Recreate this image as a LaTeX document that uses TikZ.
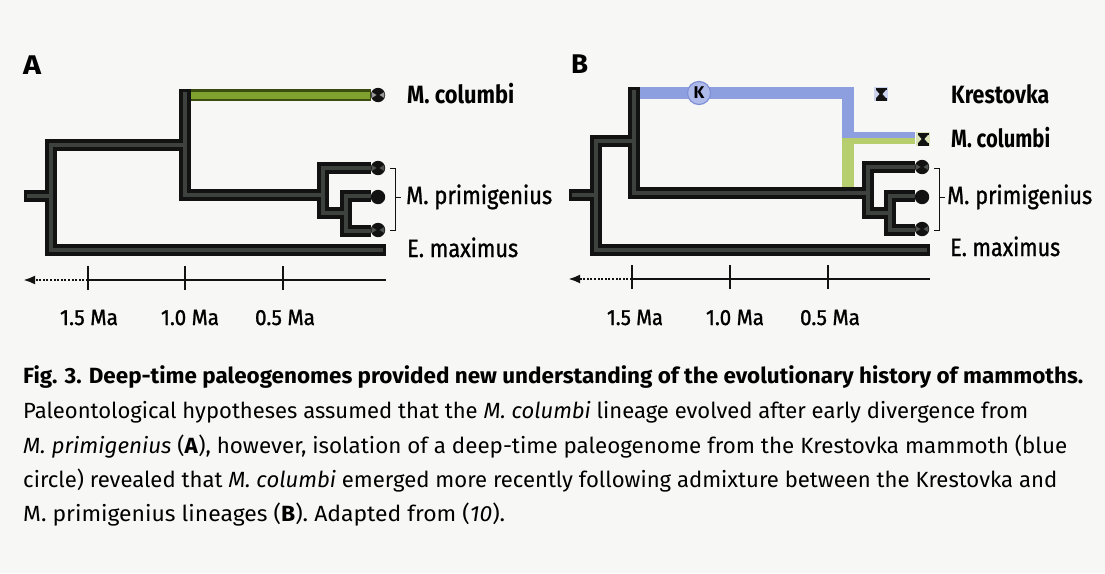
\documentclass[tikz,border=0pt]{standalone}
\usepackage{fontspec}
\setmainfont{Fira Sans}
\newfontfamily\medfont[FakeBold=1.2]{Fira Sans}
\usepackage{graphicx}
\usetikzlibrary{arrows.meta}
\definecolor{paper}{HTML}{F7F7F5}
\definecolor{brout}{HTML}{121212}
\definecolor{brin}{HTML}{3E423E}
\definecolor{kblue}{HTML}{8E9FE0}
\definecolor{cgreenA}{HTML}{7FA12E}
\definecolor{cgreenAo}{HTML}{3A4C10}
\definecolor{cgreenB}{HTML}{B7CE6E}
\definecolor{kfill}{HTML}{AEBBEA}
\definecolor{kedge}{HTML}{7F90D6}
\definecolor{markgray}{HTML}{9A9A9A}
\definecolor{markdark}{HTML}{505450}
\newcommand{\fitw}[2]{\resizebox{#1pt}{\height}{#2}}
\newcommand{\hglass}[3]{%
  \begin{scope}[shift={(#1,#2)}]
    \fill[#3] (-7,-7) rectangle (7,7);
    \fill[brout] (-5.5,-6.5) rectangle (5.5,-3.8);
    \fill[brout] (-5.5,3.8) rectangle (5.5,6.5);
    \fill[brout] (-4.8,-4) -- (4.8,-4) -- (1.3,0) -- (4.8,4) -- (-4.8,4) -- (-1.3,0) -- cycle;
  \end{scope}}
\newcommand{\sdisk}[3]{%
  \begin{scope}[shift={(#1,#2)}]
    \fill[brout] (0,0) circle (7.2);
    \fill[#3] (-6.3,-3) -- (-1.5,0) -- (-6.3,3) -- cycle;
    \fill[#3] (6.3,-3) -- (1.5,0) -- (6.3,3) -- cycle;
  \end{scope}}
\begin{document}
\begin{tikzpicture}[x=1pt,y=-1pt,
  outer/.style={line width=12pt, draw=brout, line join=miter},
  inner/.style={line width=4.5pt, draw=brin, line join=miter},
  lbl/.style={anchor=base west, inner sep=0pt, font=\fontsize{25}{28}\selectfont},
  panel/.style={anchor=base west, inner sep=0pt, font=\fontsize{27}{30}\selectfont\bfseries},
  tl/.style={anchor=base, inner sep=0pt, font=\fontsize{22}{26}\selectfont\medfont},
  captxt/.style={anchor=base west, inner sep=0pt, font=\fontsize{22}{26}\selectfont},
  axisline/.style={line width=1.6pt, draw=brout},
  pastarrow/.style={line width=2.5pt, draw=brout, dash pattern=on 2pt off 1.6pt, -{Latex[length=12pt,width=9pt]}},
  brack/.style={line width=0.9pt, draw=brout},
  kcirc/.style={circle, minimum size=23pt, inner sep=0pt, fill=kfill, draw=kedge, line width=1.2pt, font=\fontsize{17}{20}\selectfont\bfseries}
]
\useasboundingbox[fill=paper] (0,0) rectangle (1105,573);

% ---------------- Panel A ----------------
\node[panel] (labA) at (23,74) {\fitw{18}{A}};
% black branches
\draw[outer] (24,196) -- (51,196);
\draw[outer] (185,145) -- (51,145) -- (51,250) -- (386,250);
\draw[outer] (323,195) -- (185,195) -- (185,89);
\draw[outer] (371,168) -- (323,168) -- (323,213) -- (346,213);
\draw[outer] (371,196) -- (346,196) -- (346,231) -- (371,231);
\draw[inner] (27,196) -- (51,196);
\draw[inner] (185,145) -- (51,145) -- (51,250) -- (383,250);
\draw[inner] (323,195) -- (185,195) -- (185,92);
\draw[inner] (371,168) -- (323,168) -- (323,213) -- (346,213);
\draw[inner] (371,196) -- (346,196) -- (346,231) -- (371,231);
% green M. columbi branch
\draw[line width=12pt, draw=cgreenAo] (191,95) -- (371,95);
\draw[line width=7pt, draw=cgreenA] (191,95) -- (370,95);
% tips
\sdisk{378}{95}{markgray}
\sdisk{378}{168}{markdark}
\fill[brout] (378,197) circle (7.2);
\sdisk{378}{230}{markdark}
% bracket
\draw[brack] (390,168) -- (395,168) -- (395,230) -- (390,230);
\draw[brack] (395,197) -- (401,197);
% labels
\node[lbl] (colA) at (407,103) {\fitw{107}{\bfseries M. columbi}};
\node[lbl] (priA) at (406,204) {\fitw{146}{\medfont M. primigenius}};
\node[lbl] (maxA) at (407,257) {\fitw{111}{\medfont E. maximus}};
% time axis
\coordinate (a15) at (88,280);
\coordinate (a10) at (185,280);
\coordinate (a05) at (283,280);
\coordinate (aend) at (386,280);
\coordinate (apast) at (23,280);
\draw[axisline] (a15) -- (aend);
\foreach \p in {a15,a10,a05} \draw[axisline] ([yshift=-10pt]\p) -- ([yshift=14pt]\p);
\draw[pastarrow] (a15) -- (apast);
\node[tl] (tA15) at (89,325) {\fitw{58}{1.5 Ma}};
\node[tl] (tA10) at (190,325) {\fitw{58}{1.0 Ma}};
\node[tl] (tA05) at (285,325) {\fitw{60}{0.5 Ma}};

% ---------------- Panel B ----------------
\node[panel] (labB) at (571,73) {\fitw{17}{B}};
\draw[outer] (569,195) -- (596,195);
\draw[outer] (634,141) -- (596,141) -- (596,250) -- (930,250);
\draw[outer] (868,193) -- (634,193) -- (634,87);
\draw[outer] (915,167) -- (868,167) -- (868,213) -- (890,213);
\draw[outer] (915,196) -- (890,196) -- (890,230) -- (915,230);
\draw[inner] (572,195) -- (596,195);
\draw[inner] (634,141) -- (596,141) -- (596,250) -- (927,250);
\draw[inner] (868,193) -- (634,193) -- (634,90);
\draw[inner] (915,167) -- (868,167) -- (868,213) -- (890,213);
\draw[inner] (915,196) -- (890,196) -- (890,230) -- (915,230);
% Krestovka (blue) lineage and admixed M. columbi
\draw[line width=12pt, draw=kblue, line join=miter] (640,93) -- (847.5,93) -- (847.5,138);
\fill[kblue] (841.5,132) rectangle (915,138);
\fill[cgreenB] (841.5,138) rectangle (915,144);
\fill[cgreenB] (841.5,138) rectangle (853.5,187);
\node[kcirc] (K) at (699,93) {K};
% tips
\hglass{881}{94}{kfill!60!paper}
\hglass{923}{139}{cgreenB!45!paper}
\sdisk{922}{167}{markdark}
\fill[brout] (922,197) circle (7.2);
\sdisk{922}{229}{markdark}
% bracket
\draw[brack] (934,168) -- (939,168) -- (939,230) -- (934,230);
\draw[brack] (939,197) -- (945,197);
% labels
\node[lbl] (kreB) at (951,103) {\fitw{98}{\bfseries Krestovka}};
\node[lbl] (colB) at (951,147) {\fitw{99}{\bfseries M. columbi}};
\node[lbl] (priB) at (947,204) {\fitw{145}{\medfont M. primigenius}};
\node[lbl] (maxB) at (950,256) {\fitw{110}{\medfont E. maximus}};
% time axis
\coordinate (b15) at (632,279);
\coordinate (b10) at (730,279);
\coordinate (b05) at (828,279);
\coordinate (bend) at (930,279);
\coordinate (bpast) at (568,279);
\draw[axisline] (b15) -- (bend);
\foreach \p in {b15,b10,b05} \draw[axisline] ([yshift=-10pt]\p) -- ([yshift=14pt]\p);
\draw[pastarrow] (b15) -- (bpast);
\node[tl] (tB15) at (635,325) {\fitw{56}{1.5 Ma}};
\node[tl] (tB10) at (735,325) {\fitw{58}{1.0 Ma}};
\node[tl] (tB05) at (830,325) {\fitw{60}{0.5 Ma}};

% ---------------- Caption ----------------
\node[captxt] (c1) at (23,383) {\fitw{1060}{\bfseries Fig. 3. Deep-time paleogenomes provided new understanding of the evolutionary history of mammoths.}};
\node[captxt] (c2) at (23,418) {\fitw{1005}{Paleontological hypotheses assumed that the \textit{M. columbi} lineage evolved after early divergence from}};
\node[captxt] (c3) at (23,453) {\fitw{1044}{\textit{M. primigenius} (\textbf{A}), however, isolation of a deep-time paleogenome from the Krestovka mammoth (blue}};
\node[captxt] (c4) at (23,487) {\fitw{1034}{circle) revealed that \textit{M. columbi} emerged more recently following admixture between the Krestovka and}};
\node[captxt] (c5) at (23,521) {\fitw{482}{M. primigenius lineages (\textbf{B}). Adapted from (\textit{10}).}};
\end{tikzpicture}
\end{document}
